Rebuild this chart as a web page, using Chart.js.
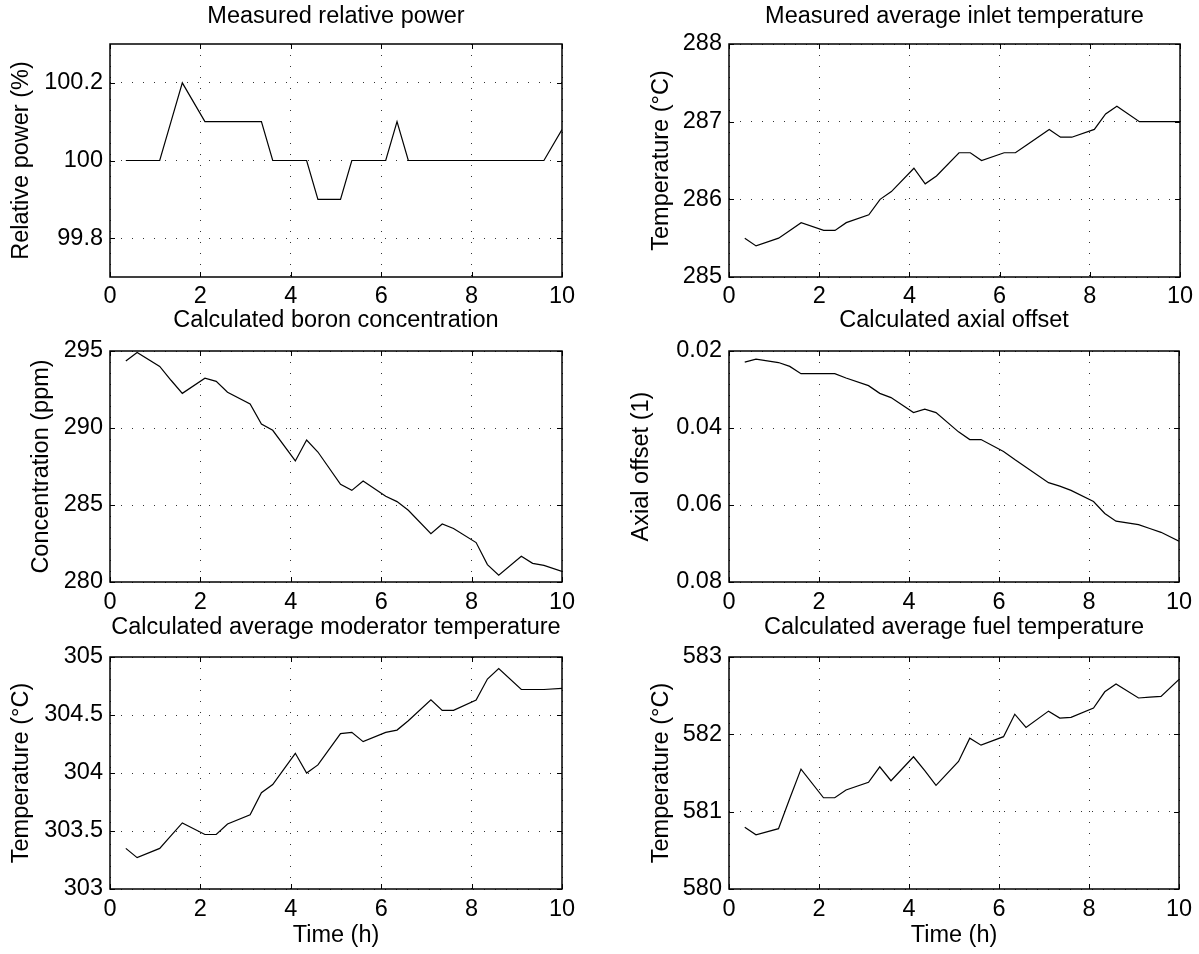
<!DOCTYPE html>
<html>
<head>
<meta charset="utf-8">
<title>Reactor measurements</title>
<script src="https://cdn.jsdelivr.net/npm/chart.js@4.4.1/dist/chart.umd.min.js"></script>
<style>
  body { margin: 0; background: #fff; }
  #wrap { position: relative; width: 1199px; height: 954px; overflow: hidden; }
  canvas { position: absolute; }
</style>
</head>
<body>
<div id="wrap">
  <canvas id="power"></canvas>
  <canvas id="inlet"></canvas>
  <canvas id="boron"></canvas>
  <canvas id="offset"></canvas>
  <canvas id="moder"></canvas>
  <canvas id="fuel"></canvas>
</div>
<script>
"use strict";

/* sample times (h) */
var timeH = [0.35, 0.6, 1.1, 1.35, 1.6, 2.1, 2.35, 2.6, 3.1, 3.35, 3.6, 4.1, 4.35, 4.6, 5.1,
             5.35, 5.6, 6.1, 6.35, 6.6, 7.1, 7.35, 7.6, 8.1, 8.35, 8.6, 9.1, 9.35, 9.6, 10];

/* series */
var relPower = [100, 100, 100, 100.1, 100.2, 100.1, 100.1, 100.1, 100.1, 100.1,
                100, 100, 100, 99.9, 99.9, 100, 100, 100, 100.1, 100,
                100, 100, 100, 100, 100, 100, 100, 100, 100, 100.08];
var inletTemp = [285.5, 285.4, 285.5, 285.6, 285.7, 285.6, 285.6, 285.7, 285.8, 286.0,
                 286.1, 286.4, 286.2, 286.3, 286.6, 286.6, 286.5, 286.6, 286.6, 286.7,
                 286.9, 286.8, 286.8, 286.9, 287.1, 287.2, 287.0, 287.0, 287.0, 287.0];
var boronPpm = [294.35, 294.9, 294.0, 293.1, 292.25, 293.23, 293.03, 292.32, 291.56, 290.26,
                289.85, 287.86, 289.22, 288.44, 286.34, 285.95, 286.56, 285.57, 285.22, 284.66,
                283.14, 283.77, 283.47, 282.56, 281.13, 280.44, 281.67, 281.21, 281.08, 280.69];
var axialOffset = [0.0229, 0.0221, 0.0230, 0.0240, 0.0259, 0.0259, 0.0259, 0.0270, 0.0290, 0.0310,
                   0.0321, 0.0360, 0.0351, 0.0360, 0.0410, 0.0430, 0.0430, 0.0461, 0.0482, 0.0502,
                   0.0542, 0.0551, 0.0562, 0.0591, 0.0622, 0.0642, 0.0651, 0.0661, 0.0671, 0.0694];
var moderTemp = [303.35, 303.27, 303.35, 303.46, 303.57, 303.47, 303.47, 303.56, 303.64, 303.83,
                 303.90, 304.17, 304.00, 304.07, 304.34, 304.35, 304.27, 304.35, 304.37, 304.45,
                 304.63, 304.54, 304.54, 304.63, 304.81, 304.90, 304.72, 304.72, 304.72, 304.73];
var fuelTemp = [580.80, 580.70, 580.78, 581.17, 581.55, 581.18, 581.18, 581.28, 581.38, 581.58,
                581.40, 581.71, 581.53, 581.34, 581.65, 581.95, 581.86, 581.97, 582.26, 582.09,
                582.30, 582.21, 582.22, 582.34, 582.55, 582.65, 582.47, 582.48, 582.49, 582.71];

/* tick labels */
var xTicks = [0, 2, 4, 6, 8, 10];
var powerTicks = [99.8, 100, 100.2];
var inletTicks = [285, 286, 287, 288];
var boronTicks = [280, 285, 290, 295];
var offsetTicks = [0.02, 0.04, 0.06, 0.08];
var moderTicks = [303, 303.5, 304, 304.5, 305];
var fuelTicks = [580, 581, 582, 583];

var FONT = '"Liberation Sans", Arial, Helvetica, sans-serif';
var FSIZE = 23.5;
var LH = FSIZE * 1.2;

/* page layout (pixels) */
var cols = [
    { left: 0, w: 600, chartLeft: 110, padRight: 38 },
    { left: 600, w: 599, chartLeft: 129, padRight: 18 }
];
var rows = [
    { top: 0, bottom: 310, titleY: 17, chartTop: 44, chartBottom: 277, labelY: 297, xTitle: false },
    { top: 300, bottom: 615, titleY: 321, chartTop: 351, chartBottom: 582, labelY: 603, xTitle: false },
    { top: 600, bottom: 954, titleY: 628, chartTop: 657, chartBottom: 889, labelY: 910, xTitle: true }
];

/* matlab style box with inward ticks */
var boxPlugin = {
    id: 'box',
    afterDraw: function (chart) {
        var a = chart.chartArea, ctx = chart.ctx;
        var xs = chart.scales.x, ys = chart.scales.y;
        ctx.save();
        ctx.strokeStyle = '#000';
        ctx.lineWidth = 1;
        ctx.beginPath();
        xs.ticks.forEach(function (t) {
            var px = Math.round(xs.getPixelForValue(t.value)) + 0.5;
            ctx.moveTo(px, a.bottom); ctx.lineTo(px, a.bottom - 5);
            ctx.moveTo(px, a.top); ctx.lineTo(px, a.top + 5);
        });
        ys.ticks.forEach(function (t) {
            var py = Math.round(ys.getPixelForValue(t.value)) + 0.5;
            ctx.moveTo(a.left, py); ctx.lineTo(a.left + 5, py);
            ctx.moveTo(a.right, py); ctx.lineTo(a.right - 5, py);
        });
        ctx.stroke();
        ctx.lineWidth = 1.5;
        ctx.strokeRect(a.left, a.top, a.right - a.left, a.bottom - a.top);
        ctx.restore();
    }
};

function makeChart(p) {
    var col = cols[p.col], row = rows[p.row];
    var canvas = document.getElementById(p.id);
    canvas.width = col.w;
    canvas.height = row.bottom - row.top;
    canvas.style.left = col.left + 'px';
    canvas.style.top = row.top + 'px';

    var titleTop = row.titleY - row.top - LH / 2;
    var titleBottom = row.chartTop - row.top - titleTop - LH;
    var font = { family: FONT, size: FSIZE, weight: 'normal' };

    var points = timeH.map(function (t, i) { return { x: t, y: p.values[i] }; });

    return new Chart(canvas.getContext('2d'), {
        type: 'line',
        data: {
            datasets: [{
                data: points,
                borderColor: '#000',
                borderWidth: 1.2,
                pointRadius: 0,
                fill: false,
                tension: 0
            }]
        },
        options: {
            responsive: false,
            animation: false,
            devicePixelRatio: 1,
            layout: { padding: { left: 0, right: col.padRight, top: 0, bottom: 0 } },
            plugins: {
                legend: { display: false },
                tooltip: { enabled: false },
                title: {
                    display: true,
                    text: p.title,
                    fullSize: false,
                    color: '#000',
                    font: font,
                    padding: { top: titleTop, bottom: titleBottom }
                }
            },
            scales: {
                x: {
                    type: 'linear',
                    min: 0,
                    max: 10,
                    afterBuildTicks: function (s) {
                        s.ticks = xTicks.map(function (v) { return { value: v }; });
                    },
                    afterFit: function (s) { s.height = row.bottom - row.chartBottom; },
                    grid: { color: '#333', lineWidth: 1, drawTicks: false },
                    border: { display: false, dash: [1, 10] },
                    ticks: {
                        color: '#000', font: font,
                        padding: row.labelY - row.chartBottom - LH / 2,
                        maxRotation: 0, autoSkip: false,
                        callback: function (v) { return String(v); }
                    },
                    title: {
                        display: row.xTitle,
                        text: 'Time (h)',
                        color: '#000',
                        font: font,
                        padding: { top: 0, bottom: row.bottom - 936 - LH / 2 }
                    }
                },
                y: {
                    type: 'linear',
                    min: p.yMin,
                    max: p.yMax,
                    reverse: !!p.reverse,
                    afterBuildTicks: function (s) {
                        s.ticks = p.yTicks.map(function (v) { return { value: v }; });
                    },
                    afterFit: function (s) { s.width = col.chartLeft; },
                    grid: { color: '#333', lineWidth: 1, drawTicks: false },
                    border: { display: false, dash: [1, 10] },
                    ticks: {
                        color: '#000', font: font, padding: 7, autoSkip: false,
                        callback: function (v) { return String(v); }
                    },
                    title: {
                        display: true,
                        text: p.yTitle,
                        color: '#000',
                        font: font,
                        padding: { top: p.yTitleX - LH / 2, bottom: 0 }
                    }
                }
            }
        },
        plugins: [boxPlugin]
    });
}

document.addEventListener('DOMContentLoaded', function () {
    makeChart({ id: 'power', col: 0, row: 0, values: relPower, yMin: 99.7, yMax: 100.3,
        yTicks: powerTicks, title: 'Measured relative power', yTitle: 'Relative power (%)', yTitleX: 22 });
    makeChart({ id: 'inlet', col: 1, row: 0, values: inletTemp, yMin: 285, yMax: 288,
        yTicks: inletTicks, title: 'Measured average inlet temperature', yTitle: 'Temperature (°C)', yTitleX: 62 });
    makeChart({ id: 'boron', col: 0, row: 1, values: boronPpm, yMin: 280, yMax: 295,
        yTicks: boronTicks, title: 'Calculated boron concentration', yTitle: 'Concentration (ppm)', yTitleX: 42 });
    makeChart({ id: 'offset', col: 1, row: 1, values: axialOffset, yMin: 0.02, yMax: 0.08, reverse: true,
        yTicks: offsetTicks, title: 'Calculated axial offset', yTitle: 'Axial offset (1)', yTitleX: 42 });
    makeChart({ id: 'moder', col: 0, row: 2, values: moderTemp, yMin: 303, yMax: 305,
        yTicks: moderTicks, title: 'Calculated average moderator temperature', yTitle: 'Temperature (°C)', yTitleX: 22 });
    makeChart({ id: 'fuel', col: 1, row: 2, values: fuelTemp, yMin: 580, yMax: 583,
        yTicks: fuelTicks, title: 'Calculated average fuel temperature', yTitle: 'Temperature (°C)', yTitleX: 62 });
});
</script>
</body>
</html>
